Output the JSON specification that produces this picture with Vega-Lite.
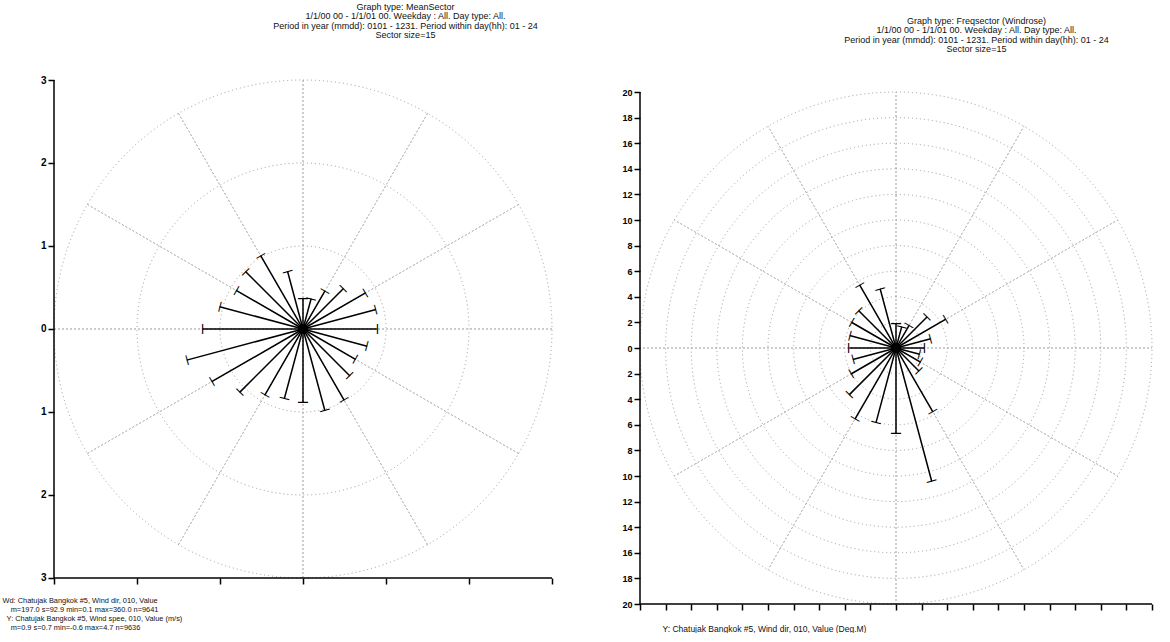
{
  "$schema": "https://vega.github.io/schema/vega-lite/v6.json",
  "background": "white",
  "padding": {"left": 2, "top": 2, "right": 0, "bottom": 0},
  "width": 1098,
  "height": 524,
  "config": {
    "view": {"stroke": null},
    "font": "Liberation Sans",
    "axis": {"domain": false, "tickColor": "black", "tickWidth": 1.5, "tickSize": 6, "grid": false, "labelOverlap": false, "labelFont": "Liberation Sans", "labelColor": "black", "labelFontSize": 10, "labelFontWeight": "bold", "titleFont": "Liberation Sans", "titleColor": "#111", "titleFontWeight": "normal", "titleFontSize": 9}
  },
  "resolve": {"scale": {"x": "independent", "y": "independent", "radius": "independent", "theta": "independent"}, "axis": {"x": "independent", "y": "independent"}},
  "layer": [
    {
      "layer": [
        {
          "data": {"values": [{"r": 1}, {"r": 2}, {"r": 3}]},
          "mark": {"type": "arc", "filled": false, "stroke": "#9a9a9a", "strokeWidth": 1, "strokeDash": [1, 3]},
          "encoding": {
            "x": {"datum": 0, "type": "quantitative", "scale": {"domain": [-3, 10.2289], "nice": false, "zero": false},
                  "axis": {"orient": "bottom", "offset": -26, "values": [-3, -2, -1, 0, 1, 2, 3], "tickCount": 30, "labels": false,
                           "title": ["Wd: Chatujak Bangkok #5, Wind dir, 010, Value", "\u200b\u00a0\u00a0\u00a0\u00a0m=197.0 s=92.9 min=0.1 max=360.0 n=9641", "\u200b\u00a0\u00a0Y: Chatujak Bangkok #5, Wind spee, 010, Value (m/s)", "\u200b\u00a0\u00a0\u00a0\u00a0m=0.9 s=0.7 min=-0.6 max=4.7 n=9636"],
                           "titleAnchor": "start", "titleAlign": "left", "titleBaseline": "top", "titleX": -52, "titleY": 18, "titleFontSize": 7.4, "titleLineHeight": 9}},
            "y": {"datum": 0, "type": "quantitative", "scale": {"domain": [-3.3133, 3], "nice": false, "zero": false},
                  "axis": {"orient": "left", "values": [-3, -2, -1, 0, 1, 2, 3], "tickCount": 30, "labelExpr": "format(abs(datum.value), 'd')",
                           "title": ["Graph type: MeanSector", "1/1/00 00 - 1/1/01 00. Weekday : All. Day type: All.", "Period in year (mmdd): 0101 - 1231. Period within day(hh): 01 - 24", "Sector size=15"],
                           "titleAngle": 0, "titleAlign": "center", "titleBaseline": "top", "titleX": 351, "titleY": -78, "titleLineHeight": 9.5}},
            "theta": {"datum": 0, "type": "quantitative", "scale": {"domain": [0, 360]}},
            "theta2": {"datum": 360},
            "radius": {"field": "r", "type": "quantitative", "stack": null, "scale": {"type": "linear", "domain": [0, 3.1566], "zero": true}}
          }
        },
        {
          "data": {"values": [{"a": 0}, {"a": 30}, {"a": 60}, {"a": 90}, {"a": 120}, {"a": 150}, {"a": 180}, {"a": 210}, {"a": 240}, {"a": 270}, {"a": 300}, {"a": 330}]},
          "mark": {"type": "arc", "filled": false, "stroke": "#9a9a9a", "strokeWidth": 1, "strokeDash": [1, 3]},
          "encoding": {
            "x": {"datum": 0, "type": "quantitative"},
            "y": {"datum": 0, "type": "quantitative"},
            "theta": {"field": "a", "type": "quantitative"},
            "theta2": {"field": "a"},
            "radius": {"datum": 3, "type": "quantitative"}
          }
        },
        {
          "data": {"values": [{"edge": "x"}]},
          "layer": [
            {"mark": {"type": "rule", "color": "black", "strokeWidth": 1.5},
             "encoding": {"x": {"datum": -3, "type": "quantitative"}, "x2": {"datum": 3}, "y": {"datum": -3, "type": "quantitative"}}},
            {"mark": {"type": "rule", "color": "black", "strokeWidth": 1.5},
             "encoding": {"x": {"datum": -3, "type": "quantitative"}, "y": {"datum": -3, "type": "quantitative"}, "y2": {"datum": 3}}}
          ]
        },
        {
          "data": {"values": [
            {"dir": 0, "v": 0.36}, {"dir": 15, "v": 0.38}, {"dir": 30, "v": 0.53}, {"dir": 45, "v": 0.69},
            {"dir": 60, "v": 0.87}, {"dir": 75, "v": 0.91}, {"dir": 90, "v": 0.89}, {"dir": 105, "v": 0.80},
            {"dir": 120, "v": 0.73}, {"dir": 135, "v": 0.80}, {"dir": 150, "v": 0.99}, {"dir": 165, "v": 1.02},
            {"dir": 180, "v": 0.88}, {"dir": 195, "v": 0.87}, {"dir": 210, "v": 0.92}, {"dir": 225, "v": 1.08},
            {"dir": 240, "v": 1.27}, {"dir": 255, "v": 1.45}, {"dir": 270, "v": 1.21}, {"dir": 285, "v": 1.04},
            {"dir": 300, "v": 0.93}, {"dir": 315, "v": 0.98}, {"dir": 330, "v": 1.02}, {"dir": 345, "v": 0.72}
          ]},
          "layer": [
            {
              "mark": {"type": "arc", "filled": false, "stroke": "black", "strokeWidth": 1.5},
              "encoding": {
                "x": {"datum": 0, "type": "quantitative"},
                "y": {"datum": 0, "type": "quantitative"},
                "theta": {"field": "dir", "type": "quantitative"},
                "theta2": {"field": "dir"},
                "radius": {"field": "v", "type": "quantitative", "stack": null}
              }
            },
            {
              "mark": {"type": "text", "text": "\u2014", "fontSize": 10, "fontWeight": "bold", "align": "center", "baseline": "middle", "color": "black"},
              "encoding": {
                "x": {"datum": 0, "type": "quantitative"},
                "y": {"datum": 0, "type": "quantitative"},
                "theta": {"field": "dir", "type": "quantitative", "stack": null},
                "radius": {"field": "v", "type": "quantitative", "stack": null},
                "angle": {"field": "dir", "type": "quantitative", "scale": null}
              }
            }
          ]
        },
        {
          "data": {"values": [{"r": 0.06}]},
          "mark": {"type": "arc", "color": "black"},
          "encoding": {
            "x": {"datum": 0, "type": "quantitative"},
            "y": {"datum": 0, "type": "quantitative"},
            "theta": {"datum": 0, "type": "quantitative"},
            "theta2": {"datum": 360},
            "radius": {"field": "r", "type": "quantitative", "stack": null}
          }
        }
      ]
    },
    {
      "layer": [
        {
          "data": {"values": [{"r": 2}, {"r": 4}, {"r": 6}, {"r": 8}, {"r": 10}, {"r": 12}, {"r": 14}, {"r": 16}, {"r": 18}, {"r": 20}]},
          "mark": {"type": "arc", "filled": false, "stroke": "#9a9a9a", "strokeWidth": 1, "strokeDash": [1, 3]},
          "encoding": {
            "x": {"datum": 0, "type": "quantitative", "scale": {"domain": [-65.78125, 20], "nice": false, "zero": false},
                  "axis": {"orient": "bottom", "offset": 0, "values": [-20, -18, -16, -14, -12, -10, -8, -6, -4, -2, 0, 2, 4, 6, 8, 10, 12, 14, 16, 18, 20], "tickCount": 60, "labels": false,
                           "title": "Y: Chatujak Bangkok #5, Wind dir, 010, Value (Deg.M)",
                           "titleAnchor": "start", "titleAlign": "left", "titleBaseline": "top", "titleX": 608, "titleY": 20, "titleFontSize": 8.5}},
            "y": {"datum": 0, "type": "quantitative", "scale": {"domain": [-20, 20.9375], "nice": false, "zero": false},
                  "axis": {"orient": "left", "offset": -586, "values": [-20, -18, -16, -14, -12, -10, -8, -6, -4, -2, 0, 2, 4, 6, 8, 10, 12, 14, 16, 18, 20], "tickCount": 60, "labelExpr": "format(abs(datum.value), 'd')", "labelFontSize": 9,
                           "title": ["Graph type: Freqsector (Windrose)", "1/1/00 00 - 1/1/01 00. Weekday : All. Day type: All.", "Period in year (mmdd): 0101 - 1231. Period within day(hh): 01 - 24", "Sector size=15"],
                           "titleAngle": 0, "titleAlign": "center", "titleBaseline": "top", "titleX": 336, "titleY": -64, "titleLineHeight": 9.5}},
            "theta": {"datum": 0, "type": "quantitative", "scale": {"domain": [0, 360]}},
            "theta2": {"datum": 360},
            "radius": {"field": "r", "type": "quantitative", "stack": null, "scale": {"type": "linear", "domain": [0, 20.46875], "zero": true}}
          }
        },
        {
          "data": {"values": [{"a": 0}, {"a": 30}, {"a": 60}, {"a": 90}, {"a": 120}, {"a": 150}, {"a": 180}, {"a": 210}, {"a": 240}, {"a": 270}, {"a": 300}, {"a": 330}]},
          "mark": {"type": "arc", "filled": false, "stroke": "#9a9a9a", "strokeWidth": 1, "strokeDash": [1, 3]},
          "encoding": {
            "x": {"datum": 0, "type": "quantitative"},
            "y": {"datum": 0, "type": "quantitative"},
            "theta": {"field": "a", "type": "quantitative"},
            "theta2": {"field": "a"},
            "radius": {"datum": 20, "type": "quantitative"}
          }
        },
        {
          "data": {"values": [{"edge": "x"}]},
          "layer": [
            {"mark": {"type": "rule", "color": "black", "strokeWidth": 1.5},
             "encoding": {"x": {"datum": -20, "type": "quantitative"}, "x2": {"datum": 20}, "y": {"datum": -20, "type": "quantitative"}}},
            {"mark": {"type": "rule", "color": "black", "strokeWidth": 1.5},
             "encoding": {"x": {"datum": -20, "type": "quantitative"}, "y": {"datum": -20, "type": "quantitative"}, "y2": {"datum": 20}}}
          ]
        },
        {
          "data": {"values": [
            {"dir": 0, "v": 1.88}, {"dir": 15, "v": 1.73}, {"dir": 30, "v": 2.05}, {"dir": 45, "v": 3.45},
            {"dir": 60, "v": 4.5}, {"dir": 75, "v": 2.81}, {"dir": 90, "v": 2.19}, {"dir": 105, "v": 1.91},
            {"dir": 120, "v": 2.21}, {"dir": 135, "v": 2.56}, {"dir": 150, "v": 5.76}, {"dir": 165, "v": 10.8},
            {"dir": 180, "v": 6.64}, {"dir": 195, "v": 6.06}, {"dir": 210, "v": 6.41}, {"dir": 225, "v": 5.18},
            {"dir": 240, "v": 4.06}, {"dir": 255, "v": 3.49}, {"dir": 270, "v": 3.65}, {"dir": 285, "v": 3.75},
            {"dir": 300, "v": 4.02}, {"dir": 315, "v": 4.14}, {"dir": 330, "v": 5.69}, {"dir": 345, "v": 4.79}
          ]},
          "layer": [
            {
              "mark": {"type": "arc", "filled": false, "stroke": "black", "strokeWidth": 1.5},
              "encoding": {
                "x": {"datum": 0, "type": "quantitative"},
                "y": {"datum": 0, "type": "quantitative"},
                "theta": {"field": "dir", "type": "quantitative"},
                "theta2": {"field": "dir"},
                "radius": {"field": "v", "type": "quantitative", "stack": null}
              }
            },
            {
              "mark": {"type": "text", "text": "\u2014", "fontSize": 10, "fontWeight": "bold", "align": "center", "baseline": "middle", "color": "black"},
              "encoding": {
                "x": {"datum": 0, "type": "quantitative"},
                "y": {"datum": 0, "type": "quantitative"},
                "theta": {"field": "dir", "type": "quantitative", "stack": null},
                "radius": {"field": "v", "type": "quantitative", "stack": null},
                "angle": {"field": "dir", "type": "quantitative", "scale": null}
              }
            }
          ]
        },
        {
          "data": {"values": [{"r": 0.4}]},
          "mark": {"type": "arc", "color": "black"},
          "encoding": {
            "x": {"datum": 0, "type": "quantitative"},
            "y": {"datum": 0, "type": "quantitative"},
            "theta": {"datum": 0, "type": "quantitative"},
            "theta2": {"datum": 360},
            "radius": {"field": "r", "type": "quantitative", "stack": null}
          }
        }
      ]
    }
  ]
}
